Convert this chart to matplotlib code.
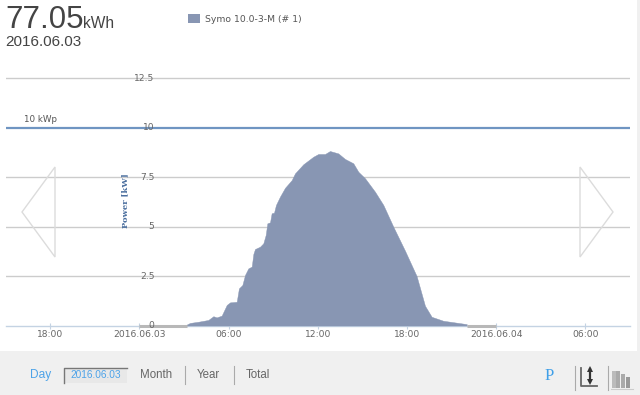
import matplotlib
matplotlib.use("Agg")
import matplotlib.pyplot as plt
from matplotlib.patches import Rectangle, Polygon

hours = [3.07, 3.41, 3.97, 4.64, 4.98, 5.2, 5.54, 5.88, 6.1, 6.55, 6.7, 6.93, 7.11, 7.33, 7.56, 7.67,
         7.78, 8.12, 8.34, 8.5, 8.61, 8.79, 8.9, 9.06, 9.19, 9.46, 9.8, 10.25, 10.47, 11.03, 11.7,
         12.04, 12.49, 12.82, 13.38, 13.83, 14.39, 14.73, 15.18, 15.85, 16.41, 17.08, 17.87,
         18.65, 19.21, 19.66, 20.44, 22.02]
power = [0.0, 0.13, 0.19, 0.28, 0.47, 0.41, 0.5, 1.04, 1.17, 1.2, 1.88, 2.05, 2.56, 2.89, 2.98, 3.62,
         3.87, 3.99, 4.16, 4.58, 5.17, 5.22, 5.68, 5.71, 6.10, 6.52, 6.97, 7.36, 7.70, 8.16, 8.54,
         8.68, 8.68, 8.83, 8.71, 8.43, 8.21, 7.78, 7.45, 6.77, 6.10, 5.0, 3.78,
         2.5, 1.0, 0.44, 0.24, 0.07]
zero_spans = [(-0.05, 3.19), (22.02, 24.0)]
y_ticks = [0, 2.5, 5, 7.5, 10, 12.5]
y_labels = ["0", "2.5", "5", "7.5", "10", "12.5"]
x_ticks = [-6, 0, 6, 12, 18, 24, 30]
x_labels = ["18:00", "2016.06.03", "06:00", "12:00", "18:00", "2016.06.04", "06:00"]
peak_kwp = 10
series_name = "Symo 10.0-3-M (# 1)"

W, H = 640, 395
fig = plt.figure(figsize=(W / 100, H / 100), dpi=100, facecolor="white")
plt.rcParams["font.family"] = ["Liberation Sans", "DejaVu Sans"]

bg = fig.add_axes([0, 0, 1, 1], zorder=0)
bg.set_xlim(0, W); bg.set_ylim(H, 0); bg.axis("off")
bg.add_patch(Rectangle((0, 351), W, 44, fc="#f0f0f0", ec="none"))
bg.add_patch(Rectangle((637, 0), 3, H, fc="#f0f0f0", ec="none"))

left, right, bottom, top = 5.5, 630, 325.5, 50
ax = fig.add_axes([left / W, 1 - bottom / H, (right - left) / W, (bottom - top) / H], zorder=1)
ax.patch.set_alpha(0)
ax.set_xlim((left - 139.3) / 14.87, (right - 139.3) / 14.87)
ax.set_ylim(0, (bottom - top) / 19.76)
for s in ["top", "left", "right"]:
    ax.spines[s].set_visible(False)
ax.spines["bottom"].set_color("#c4d3e3")
ax.spines["bottom"].set_linewidth(1)
ax.set_yticks([])
ax.set_xticks(x_ticks)
ax.set_xticklabels(x_labels, fontsize=6.6, color="#666666", family="DejaVu Sans")
ax.tick_params(axis="x", length=4, width=0.8, color="#c4d3e3", pad=1.5, direction="inout")

for v in y_ticks[1:]:
    if v != peak_kwp:
        ax.axhline(v, color="#cccccc", lw=1, zorder=1)
ax.axhline(peak_kwp, color="#6f95c2", lw=1.6, zorder=2)
ax.fill_between(hours, power, 0, color="#8896b3", lw=0.3, zorder=3)
for a, b in zero_spans:
    ax.plot([a, b], [0, 0], color="#b8b8b8", lw=2.2, solid_capstyle="butt", clip_on=False, zorder=4)
for v, t in zip(y_ticks, y_labels):
    ax.annotate(t, (0, v), xytext=(154.5, 0), xycoords=("axes fraction", "data"),
                textcoords=("figure pixels", "offset pixels"),
                ha="right", va="center", fontsize=6.6, color="#666666", family="DejaVu Sans", zorder=5)
ax.annotate("10 kWp", (0, peak_kwp), xytext=(18, 8), xycoords=("axes fraction", "data"),
            textcoords="offset pixels", ha="left", va="center", fontsize=6.3, color="#555555",
            family="DejaVu Sans")

fg = fig.add_axes([0, 0, 1, 1], zorder=2)
fg.patch.set_alpha(0)
fg.set_xlim(0, W); fg.set_ylim(H, 0); fg.axis("off")
fg.text(5, 28.5, "77.05", fontsize=22.5, color="#444444", ha="left", va="baseline")
fg.text(83, 28.5, "kWh", fontsize=11.2, color="#444444", ha="left", va="baseline")
fg.text(5, 46, "2016.06.03", fontsize=11, color="#444444", ha="left", va="baseline")
fg.add_patch(Rectangle((188, 14), 12, 9, fc="#8896b3", ec="none"))
fg.text(205, 19, series_name, fontsize=6.7, color="#555555", ha="left", va="center", family="DejaVu Sans")
fg.text(125.5, 201, "Power [kW]", fontsize=6, fontweight="bold", color="#4a6e9e", rotation=90,
        ha="center", va="center", family="DejaVu Serif")

fg.add_patch(Polygon([(55, 167), (22, 212), (55, 257)], closed=True, fc="none", ec="#dcdcdc", lw=1))
fg.add_patch(Polygon([(580, 167), (613, 212), (580, 257)], closed=True, fc="none", ec="#dcdcdc", lw=1))

fg.text(30, 375, "Day", fontsize=8.6, color="#4da3e8", ha="left", va="center")
fg.add_patch(Rectangle((64, 367.5), 63, 15, fc="#e8e8e8", ec="none"))
fg.plot([64, 64, 127], [382.5, 367.5, 367.5], color="#777777", lw=1)
fg.text(95.5, 375, "2016.06.03", fontsize=7.3, color="#4da3e8", ha="center", va="center")
fg.text(156, 375.5, "Month", fontsize=8.3, color="#666666", ha="center", va="center")
fg.text(208.5, 375.5, "Year", fontsize=8.3, color="#666666", ha="center", va="center")
fg.text(258, 375.5, "Total", fontsize=8.3, color="#666666", ha="center", va="center")
for x, y1 in [(184.5, 384), (233.5, 384), (574.5, 390), (607.5, 390)]:
    fg.plot([x, x], [366, y1], color="#aaaaaa", lw=0.8)
fg.text(549.5, 376, "P", fontsize=12, color="#3f9fe8", ha="center", va="center", family="Liberation Serif")
fg.plot([581, 581, 597], [368, 385.5, 385.5], color="#666666", lw=1.3)
fg.plot([589.5, 589.5], [369, 381], color="#333333", lw=1.6)
fg.plot([589.5], [368.5], marker="^", ms=4.5, color="#333333", mew=0)
fg.plot([589.5], [381.5], marker="v", ms=4.5, color="#333333", mew=0)
for x0, top_y, c in [(612, 371, "#bbbbbb"), (616, 371, "#aaaaaa"), (621, 374, "#aaaaaa"), (625.5, 377, "#999999")]:
    fg.add_patch(Rectangle((x0, top_y), 4, 388 - top_y, fc=c, ec="none"))
fg.plot([611, 633], [389, 389], color="#cccccc", lw=0.8)

fig.savefig("out.png", dpi=100, facecolor="white")
